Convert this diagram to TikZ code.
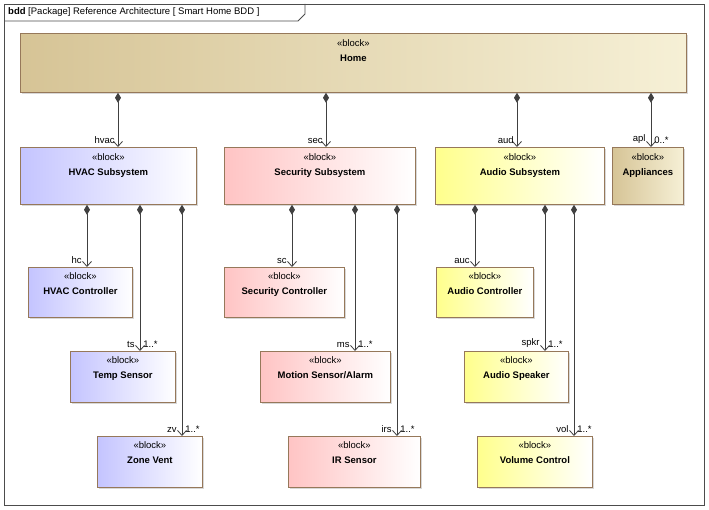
\documentclass[tikz,border=0pt]{standalone}
\usepackage{fontspec}
\setmainfont{Liberation Sans}
\usetikzlibrary{arrows.meta,shadows}

\definecolor{homeC}{RGB}{214,196,150}
\definecolor{homeL}{RGB}{246,240,214}
\definecolor{hvacC}{RGB}{196,196,255}
\definecolor{secC}{RGB}{255,196,196}
\definecolor{audC}{RGB}{255,255,140}
\definecolor{edgeC}{RGB}{150,120,90}

\tikzset{
  blk/.style={draw=edgeC, line width=0.8pt, anchor=north west, align=center,
    inner sep=0pt, font=\fontsize{9.5}{15}\selectfont,
    drop shadow={shadow xshift=2pt, shadow yshift=-2pt, fill=black!30}},
  home/.style={blk, left color=homeC, right color=homeL},
  hvac/.style={blk, left color=hvacC, right color=white},
  sec/.style={blk, left color=secC, right color=white},
  aud/.style={blk, left color=audC, right color=white},
  appl/.style={blk, left color=homeC, right color=homeL},
  comp/.style={draw=black!75, line width=0.8pt,
    {Diamond[length=10pt,width=6pt]}-{Straight Barb[length=5pt,width=9pt]}},
  role/.style={font=\fontsize{9.5}{11}\selectfont, inner sep=3pt},
}
\newcommand{\blktext}[1]{«block»\\\textbf{#1}}

\begin{document}
\begin{tikzpicture}[x=1pt,y=-1pt]
\useasboundingbox (0,0) rectangle (709,510);
% frame
\draw[black!70, line width=0.8pt] (4,4) rectangle (704,505);
\draw[black!70, line width=0.8pt] (4,21) -- (298,21) -- (305,14) -- (305,4);
\node[anchor=west, font=\fontsize{9.5}{11}\selectfont, inner sep=0pt] (title) at (8,12)
  {\textbf{bdd} [Package] Reference Architecture [ Smart Home BDD ]};

% blocks
\node[home, minimum width=666, minimum height=59, text depth=24pt] (home) at (20,33) {\blktext{Home}};
\node[hvac, minimum width=176, minimum height=57, text depth=23pt] (hvacS) at (20,147) {\blktext{HVAC Subsystem}};
\node[sec, minimum width=191, minimum height=57, text depth=23pt] (secS) at (224,147) {\blktext{Security Subsystem}};
\node[aud, minimum width=169, minimum height=57, text depth=23pt] (audS) at (435,147) {\blktext{Audio Subsystem}};
\node[appl, minimum width=71, minimum height=57, text depth=23pt] (appl) at (612,147) {\blktext{Appliances}};

\node[hvac, minimum width=104, minimum height=50, text depth=18pt] (hvacC) at (28,267) {\blktext{HVAC Controller}};
\node[hvac, minimum width=105, minimum height=51, text depth=18pt] (temp) at (70,351) {\blktext{Temp Sensor}};
\node[hvac, minimum width=105, minimum height=51, text depth=18pt] (vent) at (97,436) {\blktext{Zone Vent}};

\node[sec, minimum width=120, minimum height=50, text depth=18pt] (secC) at (224,267) {\blktext{Security Controller}};
\node[sec, minimum width=130, minimum height=51, text depth=18pt] (motion) at (260,351) {\blktext{Motion Sensor/Alarm}};
\node[sec, minimum width=132, minimum height=51, text depth=18pt] (irs) at (288,436) {\blktext{IR Sensor}};

\node[aud, minimum width=97, minimum height=50, text depth=18pt] (audC) at (436,267) {\blktext{Audio Controller}};
\node[aud, minimum width=104, minimum height=51, text depth=18pt] (spkr) at (464,351) {\blktext{Audio Speaker}};
\node[aud, minimum width=115, minimum height=51, text depth=18pt] (vol) at (477,436) {\blktext{Volume Control}};

% compositions
\draw[comp] (home.south -| 118,0) -- (hvacS.north -| 118,0) node[role, pos=1, above left] {hvac};
\draw[comp] (home.south -| 326,0) -- (secS.north -| 326,0) node[role, pos=1, above left] {sec};
\draw[comp] (home.south -| 517,0) -- (audS.north -| 517,0) node[role, pos=1, above left] {aud};
\draw[comp] (home.south -| 651,0) -- (appl.north -| 651,0) node[role, pos=1, above left, xshift=-2pt] {apl}
  node[role, pos=1, above right] {0..*};

\draw[comp] (hvacS.south -| 87,0) -- (hvacC.north -| 87,0) node[role, pos=1, above left, xshift=-2pt] {hc};
\draw[comp] (hvacS.south -| 140,0) -- (temp.north -| 140,0) node[role, pos=1, above left, xshift=-2pt] {ts}
  node[role, pos=1, above right] {1..*};
\draw[comp] (hvacS.south -| 182,0) -- (vent.north -| 182,0) node[role, pos=1, above left, xshift=-2pt] {zv}
  node[role, pos=1, above right] {1..*};

\draw[comp] (secS.south -| 292,0) -- (secC.north -| 292,0) node[role, pos=1, above left, xshift=-2pt] {sc};
\draw[comp] (secS.south -| 355,0) -- (motion.north -| 355,0) node[role, pos=1, above left, xshift=-2pt] {ms}
  node[role, pos=1, above right] {1..*};
\draw[comp] (secS.south -| 397,0) -- (irs.north -| 397,0) node[role, pos=1, above left, xshift=-2pt] {irs}
  node[role, pos=1, above right] {1..*};

\draw[comp] (audS.south -| 475,0) -- (audC.north -| 475,0) node[role, pos=1, above left, xshift=-2pt] {auc};
\draw[comp] (audS.south -| 545,0) -- (spkr.north -| 545,0) node[role, pos=1, above left, xshift=-2pt] {spkr}
  node[role, pos=1, above right] {1..*};
\draw[comp] (audS.south -| 574,0) -- (vol.north -| 574,0) node[role, pos=1, above left, xshift=-2pt] {vol}
  node[role, pos=1, above right] {1..*};
\end{tikzpicture}
\end{document}
